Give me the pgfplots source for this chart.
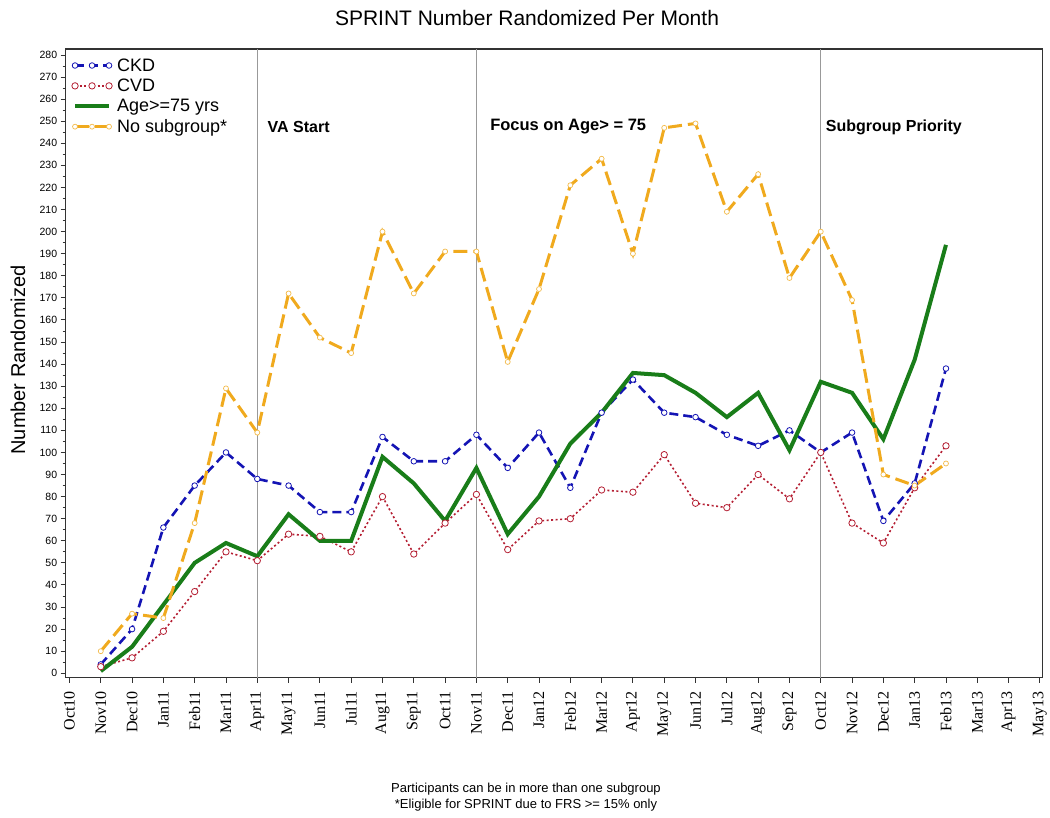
\documentclass[border=0pt]{standalone}
\usepackage{pgfplots}
\usepackage{pgfplotstable}
\pgfplotsset{compat=1.18}
\usepackage{fontspec}
\setmainfont{Liberation Sans}
\newfontfamily\serifx{Liberation Serif}
\definecolor{ckd}{RGB}{20,20,180}
\definecolor{cvd}{RGB}{180,30,50}
\definecolor{age}{RGB}{25,125,25}
\definecolor{nosub}{RGB}{240,170,30}
\pgfplotstableread{
x ckd cvd age nosub
1 4 3 1 10
2 20 7 12 27
3 66 19 31 25
4 85 37 50 68
5 100 55 59 129
6 88 51 53 109
7 85 63 72 172
8 73 62 60 152
9 73 55 60 145
10 107 80 98 200
11 96 54 86 172
12 96 68 69 191
13 108 81 93 191
14 93 56 63 141
15 109 69 80 174
16 84 70 104 221
17 118 83 118 233
18 133 82 136 190
19 118 99 135 247
20 116 77 127 249
21 108 75 116 209
22 103 90 127 226
23 110 79 101 179
24 100 100 132 200
25 109 68 127 169
26 69 59 106 90
27 86 84 142 85
28 138 103 194 95
}\data
\begin{document}
\begin{tikzpicture}
\begin{axis}[
  at={(0,0)}, anchor=south west, scale only axis,
  width=977pt, height=628.7pt,
  xmin=-0.12, xmax=31.09, ymin=-2, ymax=282.7,
  xtick={0,...,31},
  xticklabels={Oct10,Nov10,Dec10,Jan11,Feb11,Mar11,Apr11,May11,Jun11,Jul11,Aug11,Sep11,Oct11,Nov11,Dec11,Jan12,Feb12,Mar12,Apr12,May12,Jun12,Jul12,Aug12,Sep12,Oct12,Nov12,Dec12,Jan13,Feb13,Mar13,Apr13,May13},
  x tick label style={rotate=90, anchor=east, font=\serifx\fontsize{16}{16}\selectfont},
  xticklabel shift=5pt,
  ytick={0,10,...,280}, minor y tick num=1,
  y tick label style={font=\fontsize{10.5}{12}\selectfont},
  /pgf/number format/assume math mode=true,
  tick align=outside, major tick length=5pt, minor tick length=3pt,
  xtick pos=lower, ytick pos=left,
  axis line style={line width=1.2pt, black!80},
  tick style={line width=0.9pt, black!80},
  legend style={at={(0.003,0.99)}, anchor=north west, draw=none, fill=none,
    font=\fontsize{18}{21}\selectfont, row sep=4.3pt, nodes={inner sep=1pt}},
  legend cell align=left,
  legend image code/.code={\draw[#1] plot coordinates {(0pt,0pt) (17pt,0pt) (34pt,0pt)}; \path (39pt,0pt);},
]
\addplot[forget plot, gray!80, line width=0.9pt] coordinates {(6,-2) (6,282.7)};
\addplot[forget plot, gray!80, line width=0.9pt] coordinates {(13,-2) (13,282.7)};
\addplot[forget plot, gray!80, line width=0.9pt] coordinates {(24,-2) (24,282.7)};
\addplot[ckd, line width=2.6pt, dash pattern=on 9pt off 5pt, mark=*, mark size=2.8pt,
  mark options={solid, fill=white, draw=ckd, line width=0.8pt}] table[x=x,y=ckd] {\data};
\addlegendentry{CKD}
\addplot[cvd, line width=1.6pt, dash pattern=on 2pt off 2.5pt, mark=*, mark size=3.2pt,
  mark options={solid, fill=white, draw=cvd, line width=0.8pt}] table[x=x,y=cvd] {\data};
\addlegendentry{CVD}
\addplot[age, line width=4pt] table[x=x,y=age] {\data};
\addlegendentry{Age>=75 yrs}
\addplot[nosub, line width=3pt, dash pattern=on 14pt off 6pt, mark=*, mark size=2.5pt,
  mark options={solid, fill=white, draw=nosub!80, line width=0.7pt}] table[x=x,y=nosub] {\data};
\addlegendentry{No subgroup*}
\node[anchor=west, font=\bfseries\fontsize{16}{16}\selectfont] at (axis cs:6.22,247.4) {VA Start};
\node[anchor=west, font=\bfseries\fontsize{16.5}{16.5}\selectfont] at (axis cs:13.33,247.4) {Focus on Age> = 75};
\node[anchor=west, font=\bfseries\fontsize{16}{16}\selectfont] at (axis cs:24.05,247.4) {Subgroup Priority};
\end{axis}
\node[font=\fontsize{21}{21}\selectfont] at (461.3pt,659.7pt) {SPRINT Number Randomized Per Month};
\node[rotate=90, font=\fontsize{20}{20}\selectfont] at (-47.7pt,317.7pt) {Number Randomized};
\node[font=\fontsize{13}{13}\selectfont] at (460.3pt,-111.3pt) {Participants can be in more than one subgroup};
\node[font=\fontsize{13}{13}\selectfont] at (460.3pt,-127.3pt) {*Eligible for SPRINT due to FRS >= 15\% only};
\pgfresetboundingbox
\path[use as bounding box] (-65.7pt,-140.3pt) rectangle (984.3pt,677.7pt);
\end{tikzpicture}
\end{document}
